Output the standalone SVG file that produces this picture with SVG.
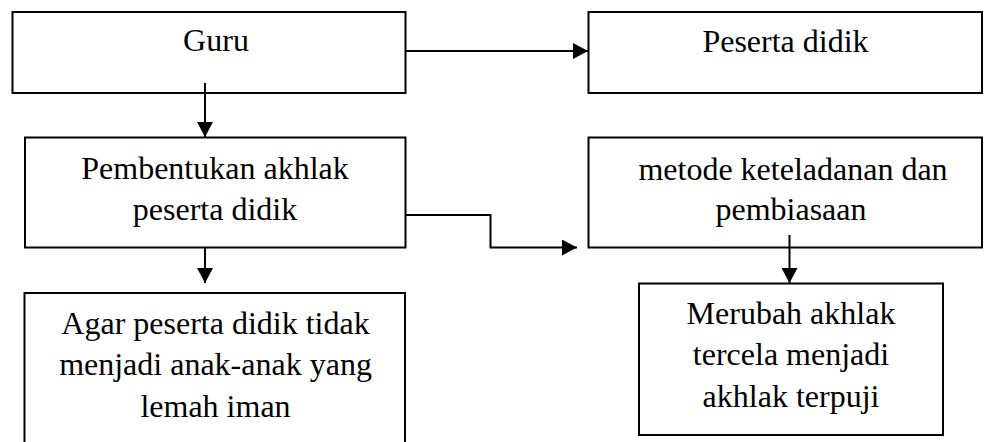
<svg xmlns="http://www.w3.org/2000/svg" width="984" height="442" viewBox="0 0 984 442">
<style>
.box{fill:#fff;stroke:#000;stroke-width:2}
.lbl{font-family:"Liberation Serif","Times New Roman",serif;font-size:32px;fill:#000;text-anchor:middle}
.con{fill:none;stroke:#000;stroke-width:2}
</style>
<defs>
<marker id="ah" markerUnits="userSpaceOnUse" markerWidth="16" markerHeight="16" refX="15" refY="8" orient="auto">
<path d="M0,0 L15,8 L0,16 z" fill="#000"/>
</marker>
</defs>
<rect width="984" height="442" fill="#fff"/>
<g id="guru"><rect class="box" x="12.5" y="12" width="393" height="81"/><text class="lbl" x="216" y="51">Guru</text></g>
<g id="peserta"><rect class="box" x="588.5" y="12" width="393.5" height="81"/><text class="lbl" x="785.5" y="51.5">Peserta didik</text></g>
<g id="pembentukan"><rect class="box" x="25" y="137.5" width="380.5" height="110"/><text class="lbl" x="215" y="178.5">Pembentukan akhlak</text><text class="lbl" x="215" y="219.5">peserta didik</text></g>
<g id="metode"><rect class="box" x="588.5" y="137.5" width="393.5" height="110"/><text class="lbl" x="793" y="179.5">metode keteladanan dan</text><text class="lbl" x="791" y="220">pembiasaan</text></g>
<g id="agar"><rect class="box" x="24.5" y="293" width="380.5" height="170"/><text class="lbl" x="215.5" y="333.5">Agar peserta didik tidak</text><text class="lbl" x="215.5" y="375">menjadi anak-anak yang</text><text class="lbl" x="215.5" y="416.5">lemah iman</text></g>
<g id="merubah"><rect class="box" x="639" y="283.5" width="304" height="151.5"/><text class="lbl" x="791" y="323.5">Merubah akhlak</text><text class="lbl" x="791" y="365">tercela menjadi</text><text class="lbl" x="791" y="406.5">akhlak terpuji</text></g>
<g id="connectors">
<path class="con" d="M405.5,51 H588" marker-end="url(#ah)"/>
<path class="con" d="M205,83 V137" marker-end="url(#ah)"/>
<path class="con" d="M405.5,215 H490.5 V247.5 H577" marker-end="url(#ah)"/>
<path class="con" d="M205,247.5 V283" marker-end="url(#ah)"/>
<path class="con" d="M789.5,235 V283" marker-end="url(#ah)"/>
</g>
</svg>
